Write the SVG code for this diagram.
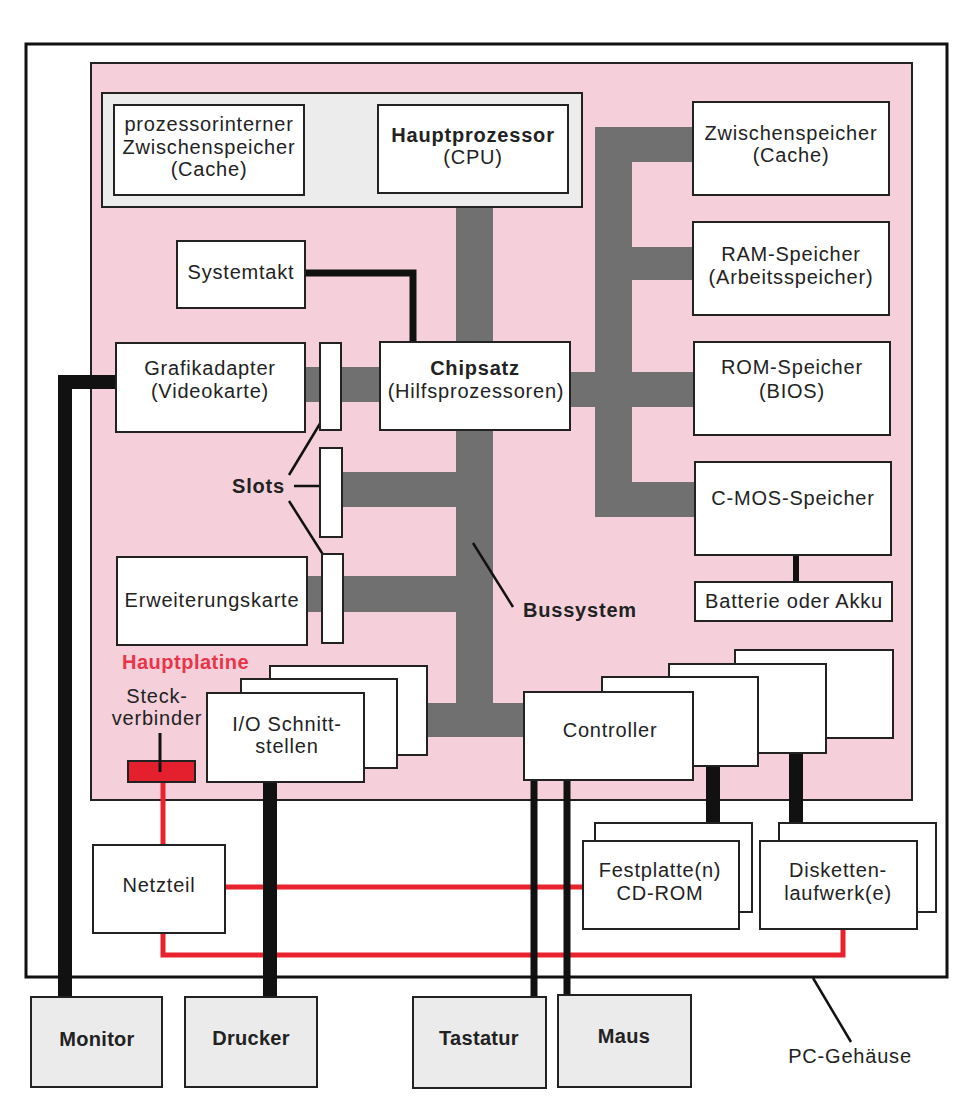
<svg xmlns="http://www.w3.org/2000/svg" width="960" height="1115" viewBox="0 0 960 1115">
<style>
text{font-family:"Liberation Sans",Arial,sans-serif;font-size:20px;fill:#222;letter-spacing:0.8px}
.c{text-anchor:middle}
.b{font-weight:bold}
.box{fill:#fff;stroke:#222;stroke-width:2}
.gbox{fill:#ebebeb;stroke:#222;stroke-width:2}
.bus{fill:#707070}
.red{fill:none;stroke:#e8232d;stroke-width:5}
.blk{fill:none;stroke:#111}
.ptr{fill:none;stroke:#111;stroke-width:2.5}
</style>
<rect x="0" y="0" width="960" height="1115" fill="#fff"/>
<g id="pc-gehaeuse">
<rect x="26" y="44" width="921" height="933" fill="#fff" stroke="#111" stroke-width="3"/>
<line class="ptr" x1="813" y1="978" x2="851" y2="1042"/>
<text x="850" y="1063" class="c">PC-Gehäuse</text>
</g>
<g id="hauptplatine">
<rect x="91" y="63" width="821" height="737" fill="#f5d0da" stroke="#222" stroke-width="2"/>
<text x="122" y="669" class="b" style="fill:#e8354a;letter-spacing:0.5px">Hauptplatine</text>
</g>
<g id="connectors">
<!-- grey bus system -->
<rect class="bus" x="304" y="128" width="74" height="37"/>
<rect class="bus" x="456" y="206" width="37" height="531"/>
<rect class="bus" x="305" y="367" width="75" height="35"/>
<rect class="bus" x="342" y="472" width="114" height="35"/>
<rect class="bus" x="307" y="576" width="149" height="36"/>
<rect class="bus" x="427" y="703" width="97" height="34"/>
<rect class="bus" x="595" y="127" width="37" height="390"/>
<rect class="bus" x="632" y="127" width="62" height="35"/>
<rect class="bus" x="632" y="247" width="62" height="33"/>
<rect class="bus" x="570" y="372" width="124" height="35"/>
<rect class="bus" x="632" y="482" width="64" height="35"/>
<!-- power lines -->
<path class="red" d="M163 782 V845"/>
<path class="red" d="M225 887 H583"/>
<path class="red" d="M163 933 V955 H843 V929"/>
<!-- black data lines -->
<path class="blk" stroke-width="7" d="M305 273 H413 V342"/>
<path class="blk" stroke-width="14" d="M116 382 H65 V997"/>
<path class="blk" stroke-width="14" d="M270 782 V997"/>
<path class="blk" stroke-width="7" d="M534 780 V997"/>
<path class="blk" stroke-width="7" d="M567 780 V995"/>
<path class="blk" stroke-width="6" d="M796 555 V582"/>
<path class="blk" stroke-width="14" d="M713 766 V841"/>
<path class="blk" stroke-width="14" d="M796 753 V841"/>
<!-- pointer lines -->
<line class="ptr" x1="289" y1="475" x2="327" y2="412"/>
<line class="ptr" x1="294" y1="486" x2="332" y2="486"/>
<line class="ptr" x1="289" y1="501" x2="329" y2="564"/>
<line class="ptr" x1="473" y1="543" x2="513" y2="607"/>
</g>
<g id="cpu-gruppe">
<rect x="102" y="93" width="480" height="114" fill="#ececec" stroke="#222" stroke-width="2"/>
</g>
<g id="cache-intern">
<rect class="box" x="114" y="105" width="190" height="90"/>
<text x="209" y="131" class="c">prozessorinterner</text>
<text x="209" y="154" class="c">Zwischenspeicher</text>
<text x="209" y="176" class="c">(Cache)</text>
</g>
<g id="cpu">
<rect class="box" x="378" y="105" width="190" height="88"/>
<text x="473" y="142" class="c b">Hauptprozessor</text>
<text x="473" y="164" class="c">(CPU)</text>
</g>
<g id="cache">
<rect class="box" x="693" y="102" width="196" height="93"/>
<text x="791" y="140" class="c">Zwischenspeicher</text>
<text x="791" y="162" class="c">(Cache)</text>
</g>
<g id="ram">
<rect class="box" x="693" y="222" width="196" height="93"/>
<text x="791" y="261" class="c">RAM-Speicher</text>
<text x="791" y="284" class="c">(Arbeitsspeicher)</text>
</g>
<g id="rom">
<rect class="box" x="694" y="342" width="196" height="93"/>
<text x="792" y="374" class="c">ROM-Speicher</text>
<text x="792" y="398" class="c">(BIOS)</text>
</g>
<g id="cmos">
<rect class="box" x="695" y="462" width="196" height="93"/>
<text x="793" y="505" class="c">C-MOS-Speicher</text>
</g>
<g id="batterie">
<rect class="box" x="695" y="582" width="197" height="39"/>
<text x="794" y="608" class="c">Batterie oder Akku</text>
</g>
<g id="systemtakt">
<rect class="box" x="177" y="241" width="128" height="67"/>
<text x="241" y="279" class="c">Systemtakt</text>
</g>
<g id="chipsatz">
<rect class="box" x="380" y="342" width="190" height="88"/>
<text x="475" y="375" class="c b">Chipsatz</text>
<text x="476" y="398" class="c">(Hilfsprozessoren)</text>
</g>
<g id="grafikadapter">
<rect class="box" x="116" y="343" width="189" height="89"/>
<text x="210" y="375" class="c">Grafikadapter</text>
<text x="210" y="398" class="c">(Videokarte)</text>
</g>
<g id="slots">
<rect class="box" x="320" y="343" width="21" height="87"/>
<rect class="box" x="320" y="448" width="22" height="89"/>
<rect class="box" x="322" y="554" width="21" height="89"/>
<text x="232" y="493" class="b">Slots</text>
</g>
<g id="erweiterungskarte">
<rect class="box" x="117" y="557" width="190" height="88"/>
<text x="212" y="607" class="c">Erweiterungskarte</text>
</g>
<g id="bussystem">
<text x="523" y="617" class="b">Bussystem</text>
</g>
<g id="io-schnittstellen">
<rect class="box" x="270" y="666" width="157" height="89"/>
<rect class="box" x="241" y="679" width="156" height="89"/>
<rect class="box" x="207" y="693" width="157" height="89"/>
<text x="287" y="731" class="c">I/O Schnitt-</text>
<text x="287" y="753" class="c">stellen</text>
</g>
<g id="controller">
<rect class="box" x="735" y="650" width="158" height="88"/>
<rect class="box" x="669" y="664" width="157" height="89"/>
<rect class="box" x="602" y="677" width="156" height="89"/>
<rect class="box" x="524" y="692" width="169" height="88"/>
<text x="610" y="737" class="c">Controller</text>
</g>
<g id="steckverbinder">
<text x="157" y="703" class="c">Steck-</text>
<text x="157" y="725" class="c">verbinder</text>
<rect x="128" y="761" width="67" height="21" fill="#e5202e" stroke="#222" stroke-width="2"/>
<line x1="160" y1="733" x2="160" y2="772" stroke="#111" stroke-width="3"/>
</g>
<g id="netzteil">
<rect class="box" x="93" y="845" width="132" height="88"/>
<text x="159" y="892" class="c">Netzteil</text>
</g>
<g id="festplatte">
<rect class="box" x="595" y="823" width="157" height="89"/>
<rect class="box" x="583" y="841" width="156" height="88"/>
<text x="660" y="877" class="c">Festplatte(n)</text>
<text x="660" y="900" class="c">CD-ROM</text>
</g>
<g id="disketten">
<rect class="box" x="779" y="823" width="157" height="89"/>
<rect class="box" x="760" y="841" width="157" height="88"/>
<text x="838" y="877" class="c">Disketten-</text>
<text x="838" y="900" class="c">laufwerk(e)</text>
</g>
<g id="monitor">
<rect class="gbox" x="31" y="997" width="131" height="90"/>
<text x="97" y="1046" class="c b" style="letter-spacing:0.3px">Monitor</text>
</g>
<g id="drucker">
<rect class="gbox" x="185" y="997" width="132" height="90"/>
<text x="251" y="1045" class="c b" style="letter-spacing:0.3px">Drucker</text>
</g>
<g id="tastatur">
<rect class="gbox" x="413" y="997" width="133" height="91"/>
<text x="479" y="1045" class="c b" style="letter-spacing:0.3px">Tastatur</text>
</g>
<g id="maus">
<rect class="gbox" x="558" y="995" width="133" height="92"/>
<text x="624" y="1043" class="c b" style="letter-spacing:0.3px">Maus</text>
</g>
</svg>
